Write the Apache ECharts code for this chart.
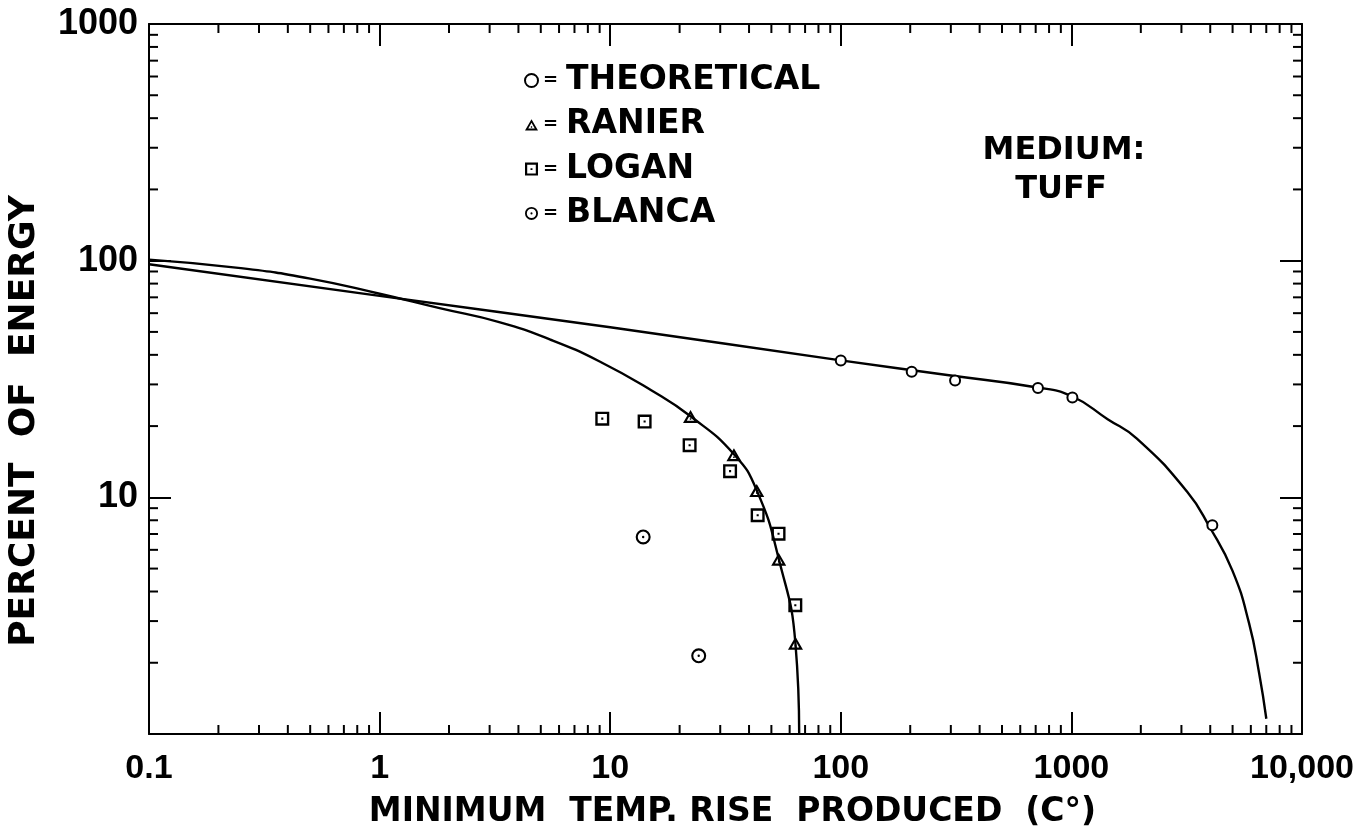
<!DOCTYPE html>
<html>
<head>
<meta charset="utf-8">
<script src="https://cdn.jsdelivr.net/npm/echarts@6/dist/echarts.min.js"></script>
<style>
html,body{margin:0;padding:0;background:#fff;}
#chart{width:1362px;height:834px;}
</style>
</head>
<body>
<div id="chart"></div>
<script>
// ---- tick labels ----
const xTickValues = [0.1, 1, 10, 100, 1000, 10000];
const xTickLabels = ['0.1', '1', '10', '100', '1000', '10,000'];
const yTickValues = [1, 10, 100, 1000];
const yTickLabels = ['', '10', '100', '1000'];

// ---- curves ----
const theoCurveX = [0.1, 1, 10, 100, 300, 700, 1000, 1436, 1923, 3165, 3993, 4992, 5893, 6516, 7003];
const theoCurveY = [96.6, 71, 52.3, 37.9, 32.7, 29.2, 26.8, 21.4, 17.7, 10.6, 7.44, 4.9, 2.94, 1.81, 1.16];

const ranierCurveX = [0.1, 0.25, 0.5, 1, 1.82, 3.3, 5.5, 9, 15, 22.3, 34.4, 43.2, 53.8, 63.6, 66];
const ranierCurveY = [101, 93, 84, 72.5, 63, 55, 46.4, 37.5, 28.4, 22, 15.2, 10.7, 5.5, 2.4, 1.0];

// ---- measured points ----
const theoX = [100, 203, 313, 716, 1010, 4085];
const theoY = [37.9, 33.9, 31.2, 29.0, 26.4, 7.63];

const ranierX = [22.3, 34.4, 43.2, 53.8, 63.6];
const ranierY = [21.97, 15.15, 10.68, 5.48, 2.42];

const loganX = [9.24, 14.1, 22.1, 33.1, 43.6, 53.7, 63.5];
const loganY = [21.5, 20.9, 16.6, 12.9, 8.4, 7.02, 3.50];

const blancaX = [13.9, 24.2];
const blancaY = [6.80, 2.14];

function zip(xs, ys) { return xs.map((x, i) => [x, ys[i]]); }

// symbols: black rings with a central dot
const SQ_DOT = 'path://M0 0H20V20H0Z M3.4 3.4V16.6H16.6V3.4Z M8.5 8.5H11.5V11.5H8.5Z';
const CIRC_DOT = 'path://M10 0A10 10 0 1 1 10 20A10 10 0 1 1 10 0Z M10 2.8A7.2 7.2 0 1 0 10 17.2A7.2 7.2 0 1 0 10 2.8Z M10 8.4A1.6 1.6 0 1 1 10 11.6A1.6 1.6 0 1 1 10 8.4Z';
const TRI_DOT = 'path://M10 0L20 17.3L0 17.3Z M10 5.6L5 14.5L15 14.5Z M9 11H11V13H9Z';

const minorX = [];
for (let d = -1; d <= 3; d++) for (let m = 2; m <= 9; m++) minorX.push(m * Math.pow(10, d));
const minorY = [];
for (let d = 0; d <= 2; d++) for (let m = 2; m <= 9; m++) minorY.push(m * Math.pow(10, d));

function labelFor(values, labels) {
  return function (v) {
    for (let i = 0; i < values.length; i++) {
      if (Math.abs(Math.log10(values[i]) - Math.log10(v)) < 1e-6) return labels[i];
    }
    return '';
  };
}

const chart = echarts.init(document.getElementById('chart'), null, {renderer: 'canvas'});

const black = '#000';
const tickFont = {color: black, fontFamily: 'Liberation Sans', fontWeight: 'bold'};
const LETTER = 'DejaVu Sans';

const baseAxis = {
  type: 'log', logBase: 10,
  axisLine: {show: true, lineStyle: {color: black, width: 2}},
  axisTick: {show: true, inside: true, length: 22, lineStyle: {color: black, width: 2}},
  splitLine: {show: false},
  minorTick: {show: false}
};

const option = {
  backgroundColor: '#fff',
  animation: false,
  grid: {left: 149, top: 24, right: 60, bottom: 92, containLabel: false},
  xAxis: [
    Object.assign({}, baseAxis, {
      min: 0.1, max: 10000, position: 'bottom',
      axisLabel: Object.assign({fontSize: 34, margin: 18, formatter: labelFor(xTickValues, xTickLabels)}, tickFont),
      name: 'MINIMUM  TEMP. RISE  PRODUCED  (C°)',
      nameLocation: 'middle', nameGap: 62,
      nameTextStyle: {color: black, fontFamily: LETTER, fontWeight: 'bold', fontSize: 33, padding: [0, 0, 0, 14]}
    }),
    Object.assign({}, baseAxis, {
      min: 0.1, max: 10000, position: 'top', axisLabel: {show: false}
    })
  ],
  yAxis: [
    Object.assign({}, baseAxis, {
      min: 1, max: 1000, position: 'left',
      axisLabel: Object.assign({fontSize: 36, margin: 11, formatter: labelFor(yTickValues, yTickLabels)}, tickFont)
    }),
    Object.assign({}, baseAxis, {
      min: 1, max: 1000, position: 'right', axisLabel: {show: false}
    })
  ],
  legend: {
    orient: 'vertical', left: 519, top: 59,
    itemWidth: 13, itemHeight: 13, itemGap: 11.3,
    selectedMode: false,
    data: [
      {name: 'THEORETICAL', icon: 'circle', itemStyle: {color: '#fff', borderColor: black, borderWidth: 2}},
      {name: 'RANIER', icon: TRI_DOT, itemStyle: {color: black}},
      {name: 'LOGAN', icon: SQ_DOT, itemStyle: {color: black}},
      {name: 'BLANCA', icon: CIRC_DOT, itemStyle: {color: black}}
    ],
    formatter: function (name) { return '{eq|=}{t|' + name + '}'; },
    textStyle: {
      color: black,
      rich: {
        eq: {fontFamily: LETTER, fontWeight: 'bold', fontSize: 18, lineHeight: 34, padding: [0, 8, 0, 0], color: black},
        t: {fontFamily: LETTER, fontWeight: 'bold', fontSize: 33, lineHeight: 34, color: black}
      }
    }
  },
  graphic: [
    {type: 'text', x: 1064, y: 151, style: {text: 'MEDIUM:', fill: black, font: 'bold 32px "DejaVu Sans"', textAlign: 'center', textVerticalAlign: 'middle'}},
    {type: 'text', x: 1061, y: 190, style: {text: 'TUFF', fill: black, font: 'bold 32px "DejaVu Sans"', textAlign: 'center', textVerticalAlign: 'middle'}},
    {type: 'text', x: 25, y: 421, rotation: Math.PI / 2, style: {text: 'PERCENT  OF  ENERGY', fill: black, font: 'bold 36px "DejaVu Sans"', textAlign: 'center', textVerticalAlign: 'middle'}}
  ],
  series: [
    {
      type: 'custom', name: 'minorTicks', xAxisIndex: 0, yAxisIndex: 0,
      silent: true, clip: false, z: 1,
      data: [[1, 10]],
      renderItem: function (params, api) {
        const cs = params.coordSys;
        const L = 9;
        const st = {stroke: black, lineWidth: 2};
        const children = [];
        minorX.forEach(function (v) {
          const x = api.coord([v, 10])[0];
          children.push({type: 'line', shape: {x1: x, y1: cs.y + cs.height, x2: x, y2: cs.y + cs.height - L}, style: st});
          children.push({type: 'line', shape: {x1: x, y1: cs.y, x2: x, y2: cs.y + L}, style: st});
        });
        minorY.forEach(function (v) {
          const y = api.coord([1, v])[1];
          children.push({type: 'line', shape: {x1: cs.x, y1: y, x2: cs.x + L, y2: y}, style: st});
          children.push({type: 'line', shape: {x1: cs.x + cs.width, y1: y, x2: cs.x + cs.width - L, y2: y}, style: st});
        });
        return {type: 'group', children: children};
      }
    },
    {
      type: 'line', name: 'theoCurve', data: zip(theoCurveX, theoCurveY),
      smooth: 0.5, showSymbol: false, symbol: 'none',
      lineStyle: {color: black, width: 2.4}, z: 2
    },
    {
      type: 'line', name: 'ranierCurve', data: zip(ranierCurveX, ranierCurveY),
      smooth: 0.5, showSymbol: false, symbol: 'none',
      lineStyle: {color: black, width: 2.4}, z: 2
    },
    {
      type: 'scatter', name: 'THEORETICAL', data: zip(theoX, theoY),
      symbol: 'circle', symbolSize: 10,
      itemStyle: {color: '#fff', borderColor: black, borderWidth: 2, opacity: 1}, z: 3
    },
    {
      type: 'scatter', name: 'RANIER', data: zip(ranierX, ranierY),
      symbol: TRI_DOT, symbolSize: [15, 13], symbolKeepAspect: false,
      itemStyle: {color: black, opacity: 1}, z: 3
    },
    {
      type: 'scatter', name: 'LOGAN', data: zip(loganX, loganY),
      symbol: SQ_DOT, symbolSize: 14,
      itemStyle: {color: black, opacity: 1}, z: 3
    },
    {
      type: 'scatter', name: 'BLANCA', data: zip(blancaX, blancaY),
      symbol: CIRC_DOT, symbolSize: 15,
      itemStyle: {color: black, opacity: 1}, z: 3
    }
  ]
};

chart.setOption(option);
</script>
</body>
</html>
